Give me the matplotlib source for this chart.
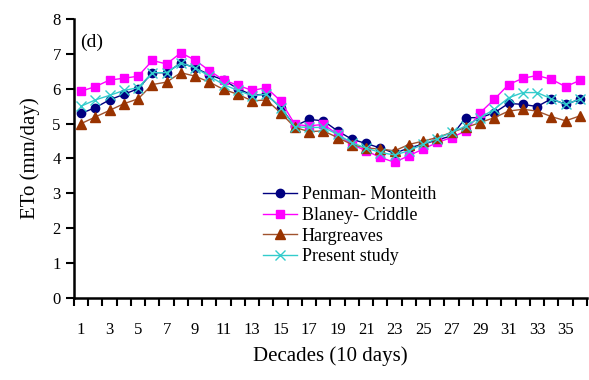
import matplotlib
matplotlib.use('Agg')
import matplotlib.pyplot as plt
import numpy as np

plt.rcParams['font.family'] = ['Liberation Serif', 'DejaVu Serif']

decades = list(range(1, 37))

penman = [5.29, 5.46, 5.68, 5.84, 6.0, 6.46, 6.46, 6.74, 6.6, 6.4, 6.25, 6.0,
          5.82, 5.84, 5.46, 4.93, 5.12, 5.08, 4.79, 4.55, 4.43, 4.3, 4.15, 4.3,
          4.41, 4.53, 4.65, 5.17, 5.17, 5.31, 5.58, 5.55, 5.49, 5.71, 5.55, 5.7]
blaney = [5.93, 6.06, 6.25, 6.3, 6.36, 6.81, 6.71, 7.03, 6.82, 6.52, 6.25, 6.1,
          5.95, 6.03, 5.65, 4.98, 4.93, 4.98, 4.69, 4.4, 4.22, 4.03, 3.89, 4.08,
          4.27, 4.46, 4.6, 4.79, 5.31, 5.7, 6.12, 6.3, 6.38, 6.27, 6.06, 6.24]
hargreaves = [5.0, 5.19, 5.38, 5.57, 5.71, 6.12, 6.19, 6.46, 6.36, 6.19, 5.98, 5.84,
              5.65, 5.68, 5.31, 4.89, 4.77, 4.79, 4.6, 4.4, 4.3, 4.27, 4.22, 4.4,
              4.5, 4.6, 4.75, 4.89, 5.03, 5.17, 5.36, 5.41, 5.36, 5.2, 5.08, 5.22]
present = [5.5, 5.68, 5.81, 5.95, 6.03, 6.46, 6.46, 6.74, 6.6, 6.36, 6.12, 5.95,
           5.8, 5.84, 5.46, 4.91, 4.89, 4.89, 4.69, 4.45, 4.3, 4.17, 4.1, 4.22,
           4.41, 4.57, 4.75, 4.93, 5.17, 5.41, 5.74, 5.89, 5.89, 5.71, 5.55, 5.7]

fig = plt.figure(figsize=(5.89, 3.80), dpi=100)
ax = fig.add_axes([0.1256, 0.216, 0.871, 0.734])

ax.plot(decades, penman, color='#000080', marker='o', markersize=6, lw=1,
        label='Penman- Monteith')
ax.plot(decades, blaney, color='#FF00FF', marker='s', markersize=6, lw=1,
        label='Blaney- Criddle')
ax.plot(decades, hargreaves, color='#A0522D', marker='^', markersize=7, lw=1,
        markerfacecolor='#993300', markeredgecolor='#993300', label='Hargreaves')
ax.plot(decades, present, color='#33CCCC', marker='x', markersize=7, lw=1,
        markeredgewidth=1, label='Present study')

ax.set_xlim(0.5, 36.5)
ax.set_ylim(0, 8)
ax.set_yticks(range(0, 9))
ax.set_xticks(range(1, 37, 2))
ax.set_xticks(np.arange(0.5, 37, 1), minor=True)
ax.tick_params(axis='x', which='major', length=0, pad=17, labelsize=12)
ax.tick_params(axis='x', which='minor', length=6, width=1.5, direction='out')
ax.tick_params(axis='y', length=6, width=1.5, direction='out', labelsize=12)

for s in ['top', 'right']:
    ax.spines[s].set_visible(False)
for s in ['left', 'bottom']:
    ax.spines[s].set_linewidth(1.8)

ax.set_ylabel('ETo (mm/day)', fontsize=15, labelpad=9)
ax.set_xlabel('Decades (10 days)', fontsize=15, labelpad=6)
ax.text(0.012, 0.9, '(d)', transform=ax.transAxes, fontsize=14)

ax.legend(loc='upper left', bbox_to_anchor=(0.368, 0.40), frameon=False,
          fontsize=13, handlelength=1.9, labelspacing=0.2, borderpad=0,
          handletextpad=0.25, borderaxespad=0)

fig.savefig('out.png', dpi=100)
